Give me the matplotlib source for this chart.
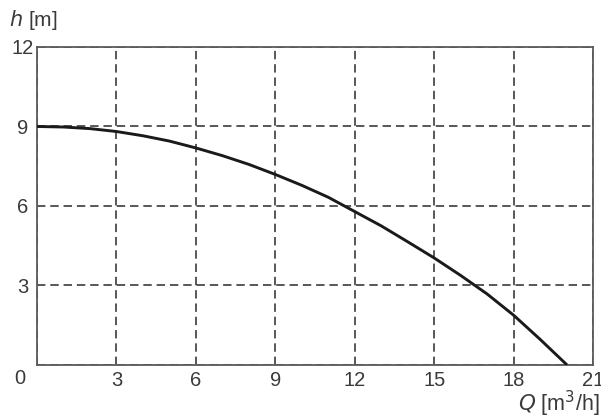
import matplotlib.pyplot as plt

# pump curve
flow = [0, 1, 2, 3, 4, 5, 6, 7, 8, 9, 10, 11, 12, 13, 14, 15, 16, 17, 18, 19, 20.02]
head = [9.0, 8.98, 8.92, 8.81, 8.65, 8.45, 8.19, 7.9, 7.57, 7.19, 6.78, 6.33,
        5.79, 5.25, 4.65, 4.04, 3.38, 2.68, 1.88, 0.97, 0.0]

x_ticks = [0, 3, 6, 9, 12, 15, 18, 21]
y_ticks = [0, 3, 6, 9, 12]
x_labels = ['', '3', '6', '9', '12', '15', '18', '21']
y_labels = ['', '3', '6', '9', '12']

plt.rcParams['font.family'] = ['Liberation Sans', 'DejaVu Sans']
txt = '#3a3a3a'

fig = plt.figure(figsize=(6.01, 4.18), dpi=100)
ax = fig.add_axes([0.0616, 0.1268, 0.9251, 0.7608])

ax.plot(flow, head, color='#1a1a1a', lw=2.1, solid_capstyle='butt', zorder=3)

ax.set_xlim(0, 21)
ax.set_ylim(0, 12)
ax.set_xticks(x_ticks)
ax.set_xticklabels(x_labels)
ax.set_yticks(y_ticks)
ax.set_yticklabels(y_labels)
ax.grid(True, color='#2a2a2a', lw=1.1, linestyle=(0, (5.5, 3.2)))
ax.tick_params(length=0, labelsize=14.5, colors=txt)
ax.tick_params(axis='x', pad=4)
ax.tick_params(axis='y', pad=10.5)
for lbl in ax.get_yticklabels():
    lbl.set_horizontalalignment('center')

for s in ax.spines.values():
    s.set_color('#5a5a5a')
    s.set_linewidth(1.3)

fig.text(20 / 601, 1 - 378 / 418, '0', ha='center', va='center', fontsize=14.5, color=txt)
fig.text(9 / 601, 1 - 20 / 418, r'$\it{h}$ [m]', ha='left', va='center', fontsize=15, color=txt)
fig.text(600 / 601, 1 - 404 / 418, r'$\it{Q}$ [m$^3$/h]', ha='right', va='center', fontsize=15.5, color=txt)

fig.savefig('out.png', dpi=100, facecolor='white')
